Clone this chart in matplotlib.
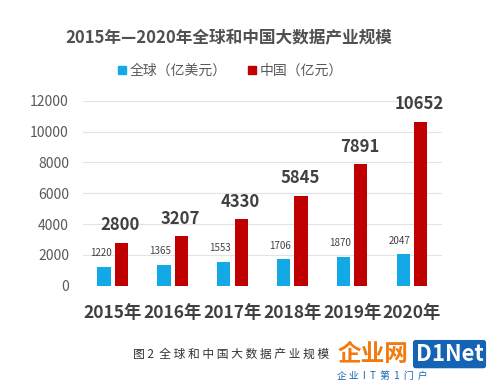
import matplotlib
matplotlib.use("Agg")
import matplotlib.pyplot as plt
import numpy as np

plt.rcParams['font.family'] = ['Noto Sans CJK SC', 'DejaVu Sans']

years = ["2015年", "2016年", "2017年", "2018年", "2019年", "2020年"]
global_vals = [1220, 1365, 1553, 1706, 1870, 2047]
china_vals = [2800, 3207, 4330, 5845, 7891, 10652]
yticks = [0, 2000, 4000, 6000, 8000, 10000, 12000]

blue = "#12A9E6"
red = "#C00000"
txt = "#404040"

fig = plt.figure(figsize=(4.96, 3.82), dpi=100)
ax = fig.add_axes([0.167, 0.252, 0.724, 0.484])

x = np.arange(len(years))
w = 0.22
off = 0.145
ax.bar(x - off, global_vals, w, color=blue, zorder=3)
ax.bar(x + off, china_vals, w, color=red, zorder=3)

for xi, v in zip(x, global_vals):
    ax.text(xi - off - 0.06, v + 550, str(v), ha="center", va="bottom", fontsize=7, color=txt)
for xi, v in zip(x, china_vals):
    ax.text(xi + off - 0.02, v + 550, str(v), ha="center", va="bottom", fontsize=12,
            fontweight="bold", color=txt)

ax.set_xlim(-0.5, len(years) - 0.5)
ax.set_ylim(0, 12000)
ax.set_yticks(yticks)
ax.set_yticklabels([str(t) for t in yticks], fontsize=10, color="#595959")
ax.set_xticks(x)
ax.set_xticklabels(years, fontsize=12.5, fontweight="bold", color=txt)
ax.tick_params(axis="both", length=0)
ax.tick_params(axis="y", pad=10)
ax.tick_params(axis="x", pad=13)
ax.grid(axis="y", color="#e3e3e3", linewidth=0.8, zorder=0)
for s in ax.spines.values():
    s.set_visible(False)

fig.text(0.462, 0.903, "2015年—2020年全球和中国大数据产业规模", ha="center", va="center",
         fontsize=12, fontweight="bold", color="#505050")

# legend
fig.patches.append(plt.Rectangle((0.238, 0.806), 0.016, 0.021, transform=fig.transFigure,
                                 color=blue, figure=fig))
fig.text(0.262, 0.816, "全球（亿美元）", ha="left", va="center", fontsize=10, color="#595959")
fig.patches.append(plt.Rectangle((0.500, 0.806), 0.016, 0.021, transform=fig.transFigure,
                                 color=red, figure=fig))
fig.text(0.524, 0.816, "中国（亿元）", ha="left", va="center", fontsize=10, color="#595959")

# caption and logo
fig.text(0.268, 0.073, "图 2  全 球 和 中 国 大 数 据 产 业 规 模", ha="left", va="center",
         fontsize=8.5, color="#333333")
fig.text(0.680, 0.073, "企业网", ha="left", va="center", fontsize=17, fontweight="bold",
         color="#F07A10", style="italic")
fig.text(0.838, 0.073, "D1Net", ha="left", va="center", fontsize=16, fontweight="bold",
         color="white", bbox=dict(boxstyle="round,pad=0.12", fc="#1463B4", ec="none"))
fig.text(0.680, 0.015, "企 业  I  T  第  1  门  户", ha="left", va="center", fontsize=7,
         color="#1463B4")

fig.savefig("out.png", dpi=100)
